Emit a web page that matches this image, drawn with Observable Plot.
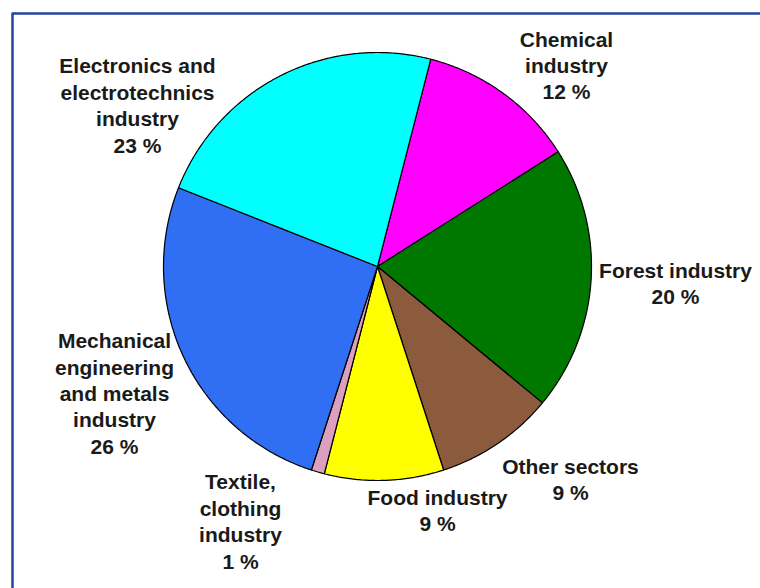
<!DOCTYPE html>
<html>
<head>
<meta charset="utf-8">
<script src="https://cdn.jsdelivr.net/npm/d3@7"></script>
<script src="https://cdn.jsdelivr.net/npm/@observablehq/plot@0.6"></script>
<style>
  html, body { margin: 0; padding: 0; background: #ffffff; }
  #chart svg { display: block; }
</style>
</head>
<body>
<div id="chart"></div>
<script>
// ---- Data ----
const sectors = [
  "Chemical\nindustry",
  "Forest industry",
  "Other sectors",
  "Food industry",
  "Textile,\nclothing\nindustry",
  "Mechanical\nengineering\nand metals\nindustry",
  "Electronics and\nelectrotechnics\nindustry"
];
const shares = [12, 20, 9, 9, 1, 26, 23];
const sliceColors = ["#ff00ff", "#007800", "#8c5a3c", "#ffff00", "#dd9fbf", "#306ef4", "#00ffff"];

// ---- Layout ----
const W = 760, H = 588;
const cx = 377, cy = 266, R = 214;
const startDeg = 14.4;
const labelX = [566, 675, 570, 437, 240, 114, 137];
const labelY = [64, 282, 478, 509, 520, 392, 104];

const pie = d3.pie().sort(null).value(d => d)
  .startAngle(startDeg * Math.PI / 180)
  .endAngle(startDeg * Math.PI / 180 + 2 * Math.PI);
const arcs = pie(shares);

const pt = a => [cx + R * Math.sin(a), cy - R * Math.cos(a)];
const features = arcs.map((a, i) => {
  const ring = [[cx, cy]];
  const n = Math.max(2, Math.ceil((a.endAngle - a.startAngle) / (Math.PI / 360)));
  for (let k = 0; k <= n; k++) ring.push(pt(a.startAngle + (a.endAngle - a.startAngle) * k / n));
  ring.push([cx, cy]);
  return {type: "Feature", properties: {color: sliceColors[i]}, geometry: {type: "Polygon", coordinates: [ring]}};
});

const border = {type: "Feature", properties: {}, geometry: {type: "MultiLineString", coordinates: [
  [[12, H + 5], [12, 13], [W + 5, 13]]
]}};

const labels = sectors.map((s, i) => ({text: `${s}\n${shares[i]} %`, x: labelX[i], y: labelY[i]}));

const chart = Plot.plot({
  width: W,
  height: H,
  margin: 0,
  projection: d3.geoIdentity(),
  color: {type: "identity"},
  marks: [
    Plot.geo([border], {stroke: "#2442a0", strokeWidth: 2.5, fill: "none"}),
    Plot.geo(features, {fill: d => d.properties.color, stroke: "#000000", strokeWidth: 1.2}),
    Plot.text(labels, {
      x: "x", y: "y", text: "text",
      fontFamily: "'Liberation Sans', Arial, sans-serif",
      fontWeight: "bold",
      fontSize: 21,
      lineHeight: 1.26,
      fill: "#1a1a1a",
      textAnchor: "middle"
    })
  ]
});
document.getElementById("chart").appendChild(chart);
</script>
</body>
</html>
